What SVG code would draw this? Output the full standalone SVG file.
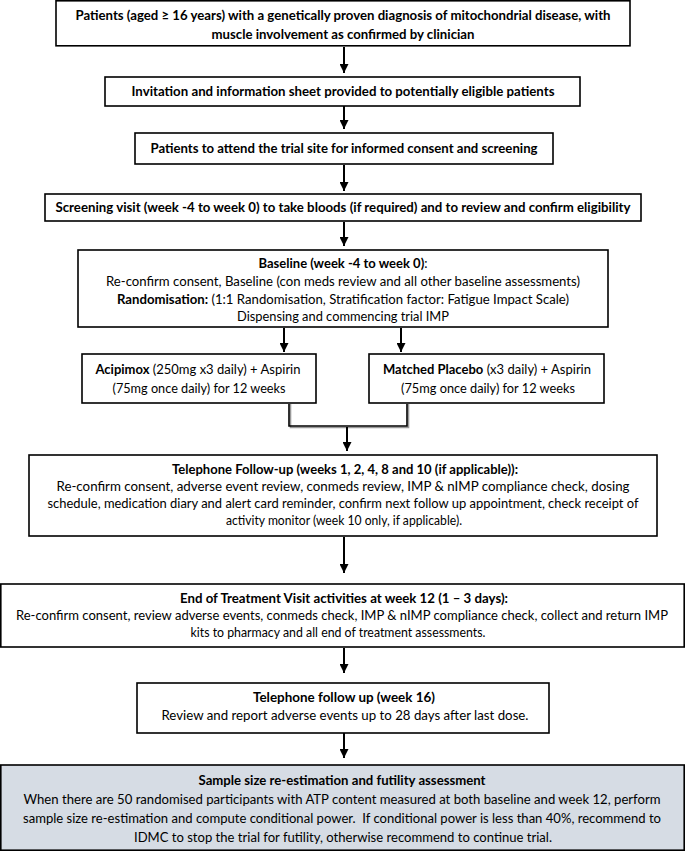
<svg xmlns="http://www.w3.org/2000/svg" width="685" height="851" viewBox="0 0 685 851">
<defs>
<marker id="ah" viewBox="0 0 10 10" refX="10" refY="5" markerWidth="4.5" markerHeight="4.5" orient="auto" markerUnits="strokeWidth"><path d="M0,0 L10,5 L0,10 z" fill="#000"/></marker>
<style>
.box{fill:#fff;stroke:#000;stroke-width:1.6}
.grey{fill:#d6dce4}
text{font-family:Lato,"Liberation Sans",Arial,sans-serif;font-size:12.5px;fill:#000;text-anchor:middle}
.b{font-weight:bold}
.arr{stroke:#000;stroke-width:2;fill:none;marker-end:url(#ah)}
.brk{stroke:#000;stroke-width:1.6;fill:none}
.brks{stroke:#999;stroke-width:1.6;fill:none}
</style>
</defs>
<g id="connectors">
<line class="arr" x1="344" y1="47" x2="344" y2="73"/>
<line class="arr" x1="344" y1="106" x2="344" y2="129"/>
<line class="arr" x1="344" y1="165" x2="344" y2="191"/>
<line class="arr" x1="344" y1="222" x2="344" y2="246"/>
<line class="arr" x1="284" y1="328" x2="284" y2="352"/>
<line class="arr" x1="401" y1="328" x2="401" y2="352"/>
<polyline class="brks" points="290.5,404 290.5,427.5 408.5,427.5 408.5,404"/>
<polyline class="brk" points="289,404 289,426 407,426 407,404"/>
<line class="arr" x1="347" y1="427" x2="347" y2="451"/>
<line class="arr" x1="344" y1="537" x2="344" y2="573"/>
<line class="arr" x1="344" y1="648" x2="344" y2="673"/>
<line class="arr" x1="344" y1="733" x2="344" y2="758"/>
</g>
<g id="n1"><rect class="box" x="56" y="0.8" width="574" height="45"/>
<text class="b" x="343" y="20" textLength="535" lengthAdjust="spacingAndGlyphs">Patients (aged ≥ 16 years) with a genetically proven diagnosis of mitochondrial disease, with</text>
<text class="b" x="343" y="39" textLength="263" lengthAdjust="spacingAndGlyphs">muscle involvement as confirmed by clinician</text></g>
<g id="n2"><rect class="box" x="105" y="77" width="475" height="29"/>
<text class="b" x="343" y="96" textLength="423" lengthAdjust="spacingAndGlyphs">Invitation and information sheet provided to potentially eligible patients</text></g>
<g id="n3"><rect class="box" x="135" y="133" width="418" height="31"/>
<text class="b" x="344" y="152.5" textLength="387" lengthAdjust="spacingAndGlyphs">Patients to attend the trial site for informed consent and screening</text></g>
<g id="n4"><rect class="box" x="45" y="194" width="596" height="27"/>
<text class="b" x="343" y="212" textLength="575" lengthAdjust="spacingAndGlyphs">Screening visit (week -4 to week 0) to take bloods (if required) and to review and confirm eligibility</text></g>
<g id="n5"><rect class="box" x="78" y="250" width="530" height="77"/>
<text x="343" y="268" textLength="169" lengthAdjust="spacingAndGlyphs"><tspan class="b">Baseline (week -4 to week 0)</tspan>:</text>
<text x="343" y="286" textLength="474" lengthAdjust="spacingAndGlyphs">Re-confirm consent, Baseline (con meds review and all other baseline assessments)</text>
<text x="343" y="303.5" textLength="452" lengthAdjust="spacingAndGlyphs"><tspan class="b">Randomisation:</tspan> (1:1 Randomisation, Stratification factor: Fatigue Impact Scale)</text>
<text x="343" y="320.5" textLength="212" lengthAdjust="spacingAndGlyphs">Dispensing and commencing trial IMP</text></g>
<g id="n6"><rect class="box" x="82" y="354" width="234" height="49"/>
<text x="198" y="374" textLength="205" lengthAdjust="spacingAndGlyphs"><tspan class="b">Acipimox</tspan> (250mg x3 daily) + Aspirin</text>
<text x="199" y="393" textLength="173" lengthAdjust="spacingAndGlyphs">(75mg once daily) for 12 weeks</text></g>
<g id="n7"><rect class="box" x="369" y="354" width="235" height="49"/>
<text x="487" y="374" textLength="208" lengthAdjust="spacingAndGlyphs"><tspan class="b">Matched Placebo</tspan> (x3 daily) + Aspirin</text>
<text x="488" y="393" textLength="174" lengthAdjust="spacingAndGlyphs">(75mg once daily) for 12 weeks</text></g>
<g id="n8"><rect class="box" x="29" y="455" width="628" height="81"/>
<text class="b" x="345" y="474" textLength="346" lengthAdjust="spacingAndGlyphs">Telephone Follow-up (weeks 1, 2, 4, 8 and 10 (if applicable)):</text>
<text x="343" y="491" textLength="573" lengthAdjust="spacingAndGlyphs">Re-confirm consent, adverse event review, conmeds review, IMP &amp; nIMP compliance check, dosing</text>
<text x="343" y="508" textLength="591" lengthAdjust="spacingAndGlyphs">schedule, medication diary and alert card reminder, confirm next follow up appointment, check receipt of</text>
<text x="344" y="524.5" textLength="236" lengthAdjust="spacingAndGlyphs">activity monitor (week 10 only, if applicable).</text></g>
<g id="n9"><rect class="box" x="0.8" y="584" width="683.4" height="63"/>
<text class="b" x="344" y="603" textLength="328" lengthAdjust="spacingAndGlyphs">End of Treatment Visit activities at week 12 (1 – 3 days):</text>
<text x="342" y="620" textLength="652" lengthAdjust="spacingAndGlyphs">Re-confirm consent, review adverse events, conmeds check, IMP &amp; nIMP compliance check, collect and return IMP</text>
<text x="338" y="636.5" textLength="295" lengthAdjust="spacingAndGlyphs">kits to pharmacy and all end of treatment assessments.</text></g>
<g id="n10"><rect class="box" x="137" y="683" width="412" height="50"/>
<text class="b" x="344" y="702" textLength="182" lengthAdjust="spacingAndGlyphs">Telephone follow up (week 16)</text>
<text x="345" y="719.5" textLength="367" lengthAdjust="spacingAndGlyphs">Review and report adverse events up to 28 days after last dose.</text></g>
<g id="n11"><rect class="box grey" x="0.8" y="765" width="683.4" height="85.2"/>
<text class="b" x="342" y="785" textLength="287" lengthAdjust="spacingAndGlyphs">Sample size re-estimation and futility assessment</text>
<text x="342" y="804" textLength="637" lengthAdjust="spacingAndGlyphs">When there are 50 randomised participants with ATP content measured at both baseline and week 12, perform</text>
<text x="342" y="823" textLength="638" lengthAdjust="spacingAndGlyphs" xml:space="preserve">sample size re-estimation and compute conditional power.  If conditional power is less than 40%, recommend to</text>
<text x="343" y="842" textLength="418" lengthAdjust="spacingAndGlyphs">IDMC to stop the trial for futility, otherwise recommend to continue trial.</text></g>
</svg>
